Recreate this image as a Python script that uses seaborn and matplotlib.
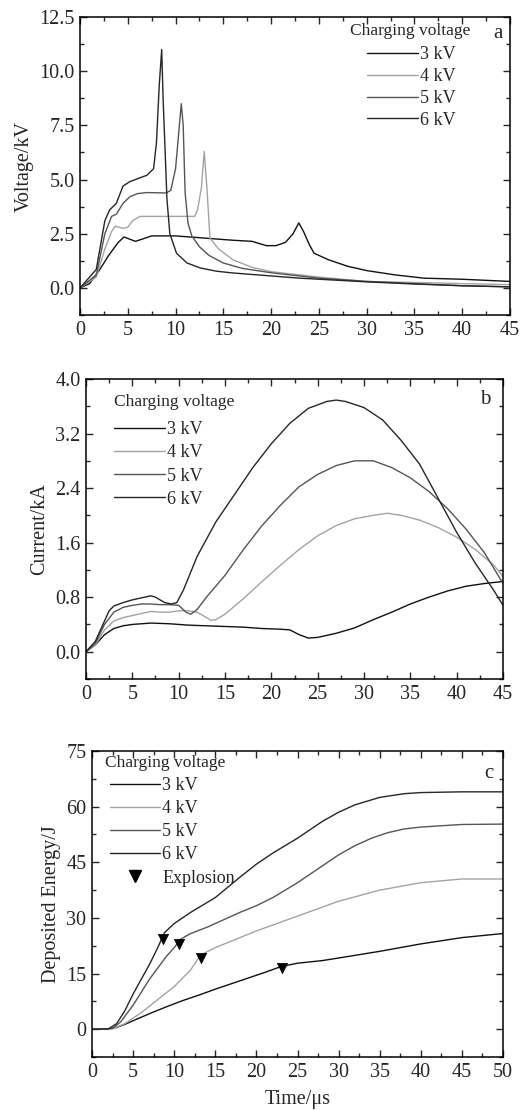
import numpy as np
import pandas as pd
import seaborn as sns
from matplotlib import pyplot as plt
from matplotlib.ticker import MultipleLocator

labels = ['3 kV', '4 kV', '5 kV', '6 kV']
colors = {'3 kV': '#111111', '4 kV': '#a3a3a3', '5 kV': '#555555', '6 kV': '#262626'}

# panel a: voltage (kV) vs time (us)
va_t = {
    '3 kV': [0, 1, 2, 3, 4, 4.6, 5.2, 5.8, 6.5, 7.5, 10, 13, 16, 18, 19.5, 20.5, 21.5, 22.3,
             22.9, 23.4, 24, 24.5, 26, 28, 30, 33, 36, 40, 45],
    '4 kV': [0, 1.7, 2.6, 3.3, 3.7, 4.5, 5.0, 5.5, 6.3, 8, 10, 12, 12.3, 12.7, 13.0, 13.3,
             13.6, 14.5, 16, 18, 20, 25, 30, 35, 40, 45],
    '5 kV': [0, 1.7, 2.6, 3.3, 3.8, 4.5, 5.2, 6, 7, 9, 9.5, 10.0, 10.4, 10.6, 10.8, 11.0,
             11.3, 11.7, 12.5, 13.5, 15, 17, 20, 25, 30, 35, 40, 45],
    '6 kV': [0, 1.7, 2.6, 3.1, 3.8, 4.5, 5.2, 7.0, 7.7, 8.0, 8.3, 8.55, 8.7, 9.1, 9.4, 10.1,
             11.2, 12.6, 14.3, 16, 19.5, 23, 30, 35, 40, 45],
}
va_v = {
    '3 kV': [0, 0.2, 0.8, 1.5, 2.1, 2.35, 2.25, 2.15, 2.25, 2.4, 2.4, 2.3, 2.2, 2.15, 1.95,
             1.95, 2.1, 2.5, 3.0, 2.6, 2.0, 1.6, 1.3, 1.0, 0.8, 0.6, 0.45, 0.4, 0.3],
    '4 kV': [0, 0.5, 1.8, 2.6, 2.85, 2.75, 2.8, 3.1, 3.3, 3.3, 3.3, 3.3, 3.6, 4.6, 6.3, 4.5,
             2.3, 1.8, 1.3, 0.95, 0.75, 0.5, 0.3, 0.25, 0.2, 0.15],
    '5 kV': [0, 0.6, 2.5, 3.3, 3.4, 3.9, 4.2, 4.35, 4.4, 4.38, 4.5, 5.5, 7.5, 8.5, 7.5, 4.4,
             3.0, 2.4, 1.9, 1.5, 1.15, 0.9, 0.7, 0.45, 0.3, 0.2, 0.1, 0.05],
    '6 kV': [0, 0.85, 3.1, 3.6, 3.9, 4.7, 4.9, 5.2, 5.5, 6.7, 9.4, 11.0, 8.7, 4.1, 2.5, 1.6,
             1.15, 0.92, 0.77, 0.69, 0.57, 0.45, 0.28, 0.18, 0.1, 0.05],
}

# panel b: current (kA) vs time (us)
ib_t = {
    '3 kV': [0, 1, 2, 3, 4, 5, 7, 9, 11, 13, 15, 17, 19, 21, 22, 23, 24, 25, 27, 29, 31, 33,
             35, 37, 39, 41, 43, 45],
    '4 kV': [0, 1, 2, 3, 4, 5, 6, 7, 8, 9, 10, 11, 12, 13, 13.5, 14, 15, 17, 19, 21, 23, 25,
             27, 29, 31, 32.5, 34, 36, 38, 40, 42, 44, 45],
    '5 kV': [0, 1, 2, 3, 4, 5, 6, 7, 8, 9, 10, 10.8, 11.3, 12, 13, 15, 17, 19, 21, 23, 25,
             27, 29, 31, 33, 35, 37, 39, 41, 43, 45],
    '6 kV': [0, 1, 2, 2.5, 3, 4, 5, 6, 7, 7.5, 8.5, 9.2, 9.8, 10.5, 12, 14, 16, 18, 20, 22,
             24, 26, 27, 28, 30, 32, 34, 36, 38, 40, 42, 44, 45],
}
ib_i = {
    '3 kV': [0, 0.1, 0.25, 0.34, 0.38, 0.4, 0.42, 0.41, 0.39, 0.38, 0.37, 0.36, 0.34, 0.33,
             0.32, 0.25, 0.2, 0.21, 0.27, 0.35, 0.47, 0.58, 0.7, 0.8, 0.89, 0.96, 1.0, 1.03],
    '4 kV': [0, 0.1, 0.32, 0.45, 0.5, 0.53, 0.56, 0.59, 0.58, 0.58, 0.6, 0.6, 0.58, 0.5,
             0.46, 0.47, 0.55, 0.78, 1.03, 1.27, 1.5, 1.7, 1.85, 1.95, 2.0, 2.03, 2.0, 1.93,
             1.82, 1.68, 1.5, 1.27, 1.1],
    '5 kV': [0, 0.12, 0.4, 0.58, 0.65, 0.68, 0.7, 0.7, 0.69, 0.69, 0.68, 0.58, 0.55, 0.62,
             0.8, 1.12, 1.5, 1.85, 2.15, 2.42, 2.6, 2.73, 2.8, 2.8, 2.7, 2.55, 2.35, 2.1,
             1.8, 1.45, 1.0],
    '6 kV': [0, 0.15, 0.45, 0.6, 0.67, 0.72, 0.76, 0.79, 0.82, 0.8, 0.72, 0.7, 0.72, 0.9,
             1.4, 1.9, 2.3, 2.7, 3.05, 3.35, 3.57, 3.67, 3.69, 3.67, 3.58, 3.4, 3.1, 2.75,
             2.25, 1.75, 1.3, 0.9, 0.68],
}

# panel c: deposited energy (J) vs time (us)
ec_t = {
    '3 kV': [0, 2, 3, 4, 5, 7, 9, 11, 13, 15, 17, 19, 21, 23, 25, 28, 30, 35, 40, 45, 50],
    '4 kV': [0, 2.5, 4, 6, 8, 10, 12, 13.2, 15, 20, 25, 30, 35, 40, 45, 50],
    '5 kV': [0, 2.5, 3.5, 5, 6, 7, 8, 9, 10, 10.8, 12, 14, 16, 18, 20, 22, 25, 28, 30, 32,
             34, 36, 38, 40, 45, 50],
    '6 kV': [0, 2, 3, 4, 5, 6, 7, 8, 8.8, 10, 12, 15, 18, 20, 22, 25, 28, 30, 32, 35, 38,
             40, 45, 50],
}
ec_e = {
    '3 kV': [0, 0.1, 0.5, 1.3, 2.3, 4.2, 6.0, 7.7, 9.2, 10.8, 12.3, 13.8, 15.3, 16.9, 17.8,
             18.5, 19.2, 21, 23, 24.7, 25.8],
    '4 kV': [0, 0.1, 1.5, 4.5, 8, 11.5, 16, 20, 22, 26.5, 30.5, 34.5, 37.5, 39.5, 40.5, 40.5],
    '5 kV': [0, 0.2, 2, 6.5, 10, 13.5, 16.5, 19.5, 22, 24.3, 25.8, 27.5, 29.5, 31.5, 33.3,
             35.5, 39.5, 44, 47, 49.5, 51.5, 53, 54, 54.5, 55.2, 55.3],
    '6 kV': [0, 0.1, 1.5, 5, 9.5, 13.5, 17.5, 22, 26, 28.5, 31.5, 35.5, 41, 44.5, 47.5, 51.5,
             56, 58.5, 60.5, 62.5, 63.5, 63.8, 64, 64],
}
explosion_t = [23.1, 13.2, 10.6, 8.6]
explosion_e = [16.6, 19.3, 23.0, 24.2]


def long_frame(tdict, vdict, yname):
    parts = []
    for lab in labels:
        parts.append(pd.DataFrame({'t': tdict[lab], yname: vdict[lab], 'voltage': lab}))
    return pd.concat(parts, ignore_index=True)


df_a = long_frame(va_t, va_v, 'v')
df_b = long_frame(ib_t, ib_i, 'i')
df_c = long_frame(ec_t, ec_e, 'e')

sns.set_style('ticks')
plt.rcParams['font.family'] = ['Liberation Serif', 'DejaVu Serif']

fig = plt.figure(figsize=(5.23, 11.1), dpi=100)
ax_a = fig.add_axes([0.153, 0.7162, 0.822, 0.2685])
ax_b = fig.add_axes([0.1644, 0.3883, 0.7974, 0.2703])
ax_c = fig.add_axes([0.1759, 0.0477, 0.7859, 0.2757])


def style_axis(ax, xmax, ymin, ymax, ymaj, ylabel):
    ax.set_xlim(0, xmax)
    ax.set_ylim(ymin, ymax)
    ax.xaxis.set_major_locator(MultipleLocator(5))
    ax.xaxis.set_minor_locator(MultipleLocator(2.5))
    ax.yaxis.set_major_locator(MultipleLocator(ymaj))
    ax.yaxis.set_minor_locator(MultipleLocator(ymaj / 2))
    ax.tick_params(which='both', direction='in', top=True, right=True, labelsize=14.5,
                   width=1, pad=4)
    ax.tick_params(which='major', length=5)
    ax.tick_params(which='minor', length=3)
    for sp in ax.spines.values():
        sp.set_linewidth(1.1)
        sp.set_color('black')
    ax.set_ylabel(ylabel, fontsize=14.5, labelpad=4)
    ax.set_xlabel('')


def add_legend(ax, handles, names, anchor, spacing):
    ax.legend(handles, names, loc='upper left', bbox_to_anchor=anchor, frameon=False,
              fontsize=13, handlelength=2.8, handletextpad=0.1, labelspacing=spacing,
              borderpad=0, borderaxespad=0)


# panel a
sns.lineplot(data=df_a, x='t', y='v', hue='voltage', palette=colors, hue_order=labels,
             linewidth=1.0, ax=ax_a, legend=False, sort=False)
style_axis(ax_a, 45, -1.25, 12.5, 2.5, 'Voltage/kV')
ax_a.yaxis.set_major_formatter(plt.FuncFormatter(lambda v, _: '%.1f' % v))
ax_a.text(0.628, 0.953, 'Charging voltage', transform=ax_a.transAxes, fontsize=12.5,
          ha='left', va='center')
add_legend(ax_a, ax_a.get_lines()[:4], labels, (0.668, 0.902), 0.27)
ax_a.text(0.983, 0.945, 'a', transform=ax_a.transAxes, fontsize=15, ha='right', va='center')

# panel b
sns.lineplot(data=df_b, x='t', y='i', hue='voltage', palette=colors, hue_order=labels,
             linewidth=1.0, ax=ax_b, legend=False, sort=False)
style_axis(ax_b, 45, -0.4, 4.0, 0.8, 'Current/kA')
ax_b.yaxis.set_major_formatter(plt.FuncFormatter(lambda v, _: '%.1f' % v))
ax_b.text(0.068, 0.923, 'Charging voltage', transform=ax_b.transAxes, fontsize=12.5,
          ha='left', va='center')
add_legend(ax_b, ax_b.get_lines()[:4], labels, (0.068, 0.859), 0.34)
ax_b.text(0.97, 0.93, 'b', transform=ax_b.transAxes, fontsize=15, ha='right', va='center')

# panel c
sns.lineplot(data=df_c, x='t', y='e', hue='voltage', palette=colors, hue_order=labels,
             linewidth=1.0, ax=ax_c, legend=False, sort=False)
sns.scatterplot(x=explosion_t, y=explosion_e, marker='v', color='black', s=55,
                edgecolor='black', linewidth=0.5, ax=ax_c, zorder=5, legend=False)
style_axis(ax_c, 50, -7.5, 75, 15, 'Deposited Energy/J')
ax_c.set_xlabel('Time/\u03bcs', fontsize=14.5, labelpad=6)
ax_c.text(0.031, 0.961, 'Charging voltage', transform=ax_c.transAxes, fontsize=12.5,
          ha='left', va='center')
expl_handle = plt.Line2D([], [], ls='none', marker='v', color='black', markersize=8)
add_legend(ax_c, ax_c.get_lines()[:4] + [expl_handle], labels + ['Explosion'],
           (0.043, 0.915), 0.34)
ax_c.text(0.978, 0.925, 'c', transform=ax_c.transAxes, fontsize=15, ha='right', va='center')

fig.savefig('out.png', dpi=100)
